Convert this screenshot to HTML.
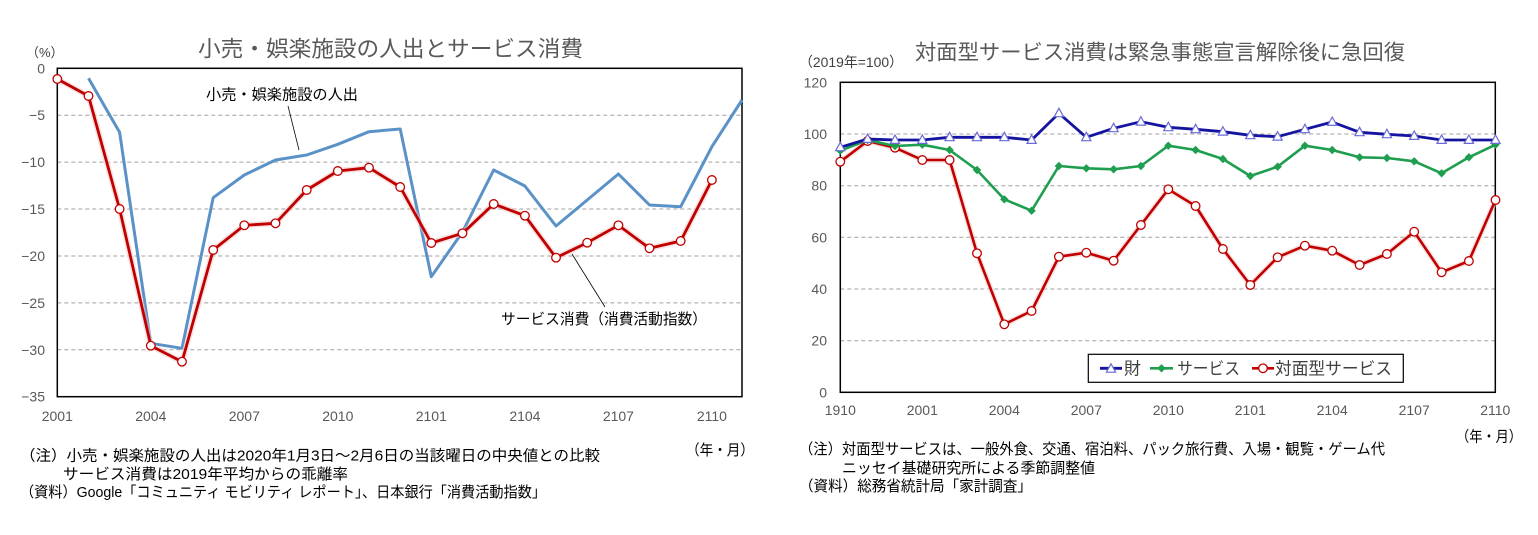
<!DOCTYPE html>
<html><head><meta charset="utf-8">
<style>
html,body{margin:0;padding:0;background:#fff;}
svg{display:block;}
text{font-family:"Liberation Sans","Noto Sans CJK JP",sans-serif;}
</style></head>
<body>
<svg width="1538" height="535" viewBox="0 0 1538 535" xmlns="http://www.w3.org/2000/svg">
<defs>
<g id="cir"><circle cx="0" cy="0" r="4.3" fill="#fff" stroke="#c00000" stroke-width="1.3"/></g>
<g id="tri"><polygon points="0,-5 -4.6,3.4 4.6,3.4" fill="#fff" stroke="#6a6ad6" stroke-width="1.2"/></g>
<g id="dia"><polygon points="0,-4.2 4.2,0 0,4.2 -4.2,0" fill="#1e9e4e"/></g>
</defs>
<rect width="1538" height="535" fill="#fff"/>

<!-- ===== LEFT CHART ===== -->
<text x="198" y="56.5" font-size="22" fill="#595959" textLength="385" lengthAdjust="spacingAndGlyphs">小売・娯楽施設の人出とサービス消費</text>
<text x="26" y="57" font-size="13" fill="#404040">（%）</text>

<g stroke="#a0a0a0" stroke-width="1" stroke-dasharray="4,3">
<line x1="57.3" y1="115.2" x2="742" y2="115.2"/>
<line x1="57.3" y1="162.1" x2="742" y2="162.1"/>
<line x1="57.3" y1="209" x2="742" y2="209"/>
<line x1="57.3" y1="256" x2="742" y2="256"/>
<line x1="57.3" y1="302.9" x2="742" y2="302.9"/>
<line x1="57.3" y1="349.8" x2="742" y2="349.8"/>
</g>
<rect x="57.3" y="68.3" width="684.7" height="328.4" fill="none" stroke="#000" stroke-width="1.5"/>

<g font-size="14" fill="#595959" text-anchor="end">
<text x="45" y="73.3">0</text>
<text x="45" y="120.2">−5</text>
<text x="45" y="167.1">−10</text>
<text x="45" y="214">−15</text>
<text x="45" y="261">−20</text>
<text x="45" y="307.9">−25</text>
<text x="45" y="354.8">−30</text>
<text x="45" y="401.7">−35</text>
</g>
<g font-size="14" fill="#595959" text-anchor="middle">
<text x="57.3" y="421">2001</text>
<text x="150.8" y="421">2004</text>
<text x="244.3" y="421">2007</text>
<text x="337.8" y="421">2010</text>
<text x="431.3" y="421">2101</text>
<text x="524.9" y="421">2104</text>
<text x="618.4" y="421">2107</text>
<text x="711.9" y="421">2110</text>
</g>

<polyline fill="none" stroke="#5a92c8" stroke-width="3" stroke-linejoin="round" points="88.5,78.3 119.6,132.3 150.8,343.3 182,348.3 213.2,197.7 244.3,175 275.5,160 306.7,155 337.8,144.3 369,131.7 400.2,129 431.3,276.7 462.5,232 493.7,170 524.9,186 556,226 587.2,200 618.4,174 649.5,205 680.7,206.7 711.9,146.7 742,100"/>
<polyline fill="none" stroke="#f3c4c4" stroke-width="6" stroke-linejoin="round" opacity="0.5" points="57.3,79 88.5,96 119.6,209 150.8,345.7 182,361.7 213.2,250 244.3,225.3 275.5,223.3 306.7,190 337.8,171 369,167.7 400.2,187 431.3,243 462.5,233.3 493.7,204 524.9,215.7 556,257.7 587.2,242.7 618.4,225.3 649.5,248.3 680.7,241 711.9,180"/>
<polyline fill="none" stroke="#c00000" stroke-width="2.8" stroke-linejoin="round" points="57.3,79 88.5,96 119.6,209 150.8,345.7 182,361.7 213.2,250 244.3,225.3 275.5,223.3 306.7,190 337.8,171 369,167.7 400.2,187 431.3,243 462.5,233.3 493.7,204 524.9,215.7 556,257.7 587.2,242.7 618.4,225.3 649.5,248.3 680.7,241 711.9,180"/>
<g>
<use href="#cir" x="57.3" y="79"/><use href="#cir" x="88.5" y="96"/><use href="#cir" x="119.6" y="209"/><use href="#cir" x="150.8" y="345.7"/><use href="#cir" x="182" y="361.7"/><use href="#cir" x="213.2" y="250"/><use href="#cir" x="244.3" y="225.3"/><use href="#cir" x="275.5" y="223.3"/><use href="#cir" x="306.7" y="190"/><use href="#cir" x="337.8" y="171"/><use href="#cir" x="369" y="167.7"/><use href="#cir" x="400.2" y="187"/><use href="#cir" x="431.3" y="243"/><use href="#cir" x="462.5" y="233.3"/><use href="#cir" x="493.7" y="204"/><use href="#cir" x="524.9" y="215.7"/><use href="#cir" x="556" y="257.7"/><use href="#cir" x="587.2" y="242.7"/><use href="#cir" x="618.4" y="225.3"/><use href="#cir" x="649.5" y="248.3"/><use href="#cir" x="680.7" y="241"/><use href="#cir" x="711.9" y="180"/>
</g>

<text x="206" y="99.5" font-size="15" fill="#000" textLength="152" lengthAdjust="spacingAndGlyphs">小売・娯楽施設の人出</text>
<line x1="288" y1="106" x2="299" y2="150" stroke="#000" stroke-width="0.8"/>
<text x="501" y="324" font-size="15" fill="#000" textLength="206" lengthAdjust="spacingAndGlyphs">サービス消費（消費活動指数）</text>
<line x1="572" y1="254" x2="605" y2="307" stroke="#000" stroke-width="0.8"/>

<text x="686" y="455" font-size="15" fill="#000" textLength="68" lengthAdjust="spacingAndGlyphs">（年・月）</text>
<g font-size="15" fill="#000">
<text x="20" y="460.5" textLength="580" lengthAdjust="spacingAndGlyphs">（注）小売・娯楽施設の人出は2020年1月3日～2月6日の当該曜日の中央値との比較</text>
<text x="63" y="478.8" textLength="285" lengthAdjust="spacingAndGlyphs">サービス消費は2019年平均からの乖離率</text>
<text x="20" y="497.2" textLength="526" lengthAdjust="spacingAndGlyphs">（資料）Google「コミュニティ モビリティ レポート」、日本銀行「消費活動指数」</text>
</g>

<!-- ===== RIGHT CHART ===== -->
<text x="915" y="59.5" font-size="21" fill="#595959" textLength="490" lengthAdjust="spacingAndGlyphs">対面型サービス消費は緊急事態宣言解除後に急回復</text>
<text x="799" y="67" font-size="14" fill="#404040" textLength="104" lengthAdjust="spacingAndGlyphs">（2019年=100）</text>

<g stroke="#a0a0a0" stroke-width="1" stroke-dasharray="4,3">
<line x1="840.3" y1="134" x2="1495.3" y2="134"/>
<line x1="840.3" y1="185.7" x2="1495.3" y2="185.7"/>
<line x1="840.3" y1="237.3" x2="1495.3" y2="237.3"/>
<line x1="840.3" y1="289" x2="1495.3" y2="289"/>
<line x1="840.3" y1="340.7" x2="1495.3" y2="340.7"/>
</g>
<rect x="840.3" y="82.3" width="655" height="310" fill="none" stroke="#000" stroke-width="1.5"/>

<g font-size="14" fill="#595959" text-anchor="end">
<text x="827" y="87.3">120</text>
<text x="827" y="139">100</text>
<text x="827" y="190.7">80</text>
<text x="827" y="242.3">60</text>
<text x="827" y="294">40</text>
<text x="827" y="345.7">20</text>
<text x="827" y="397.3">0</text>
</g>
<g font-size="14" fill="#595959" text-anchor="middle">
<text x="840.3" y="415">1910</text>
<text x="922.3" y="415">2001</text>
<text x="1004.3" y="415">2004</text>
<text x="1086.3" y="415">2007</text>
<text x="1168.3" y="415">2010</text>
<text x="1250.3" y="415">2101</text>
<text x="1332.2" y="415">2104</text>
<text x="1414.2" y="415">2107</text>
<text x="1495.3" y="415">2110</text>
</g>

<!-- red -->
<polyline fill="none" stroke="#f3c4c4" stroke-width="5.5" stroke-linejoin="round" opacity="0.5" points="840.3,161.7 867.6,141 895,147.7 922.3,160 949.6,160 977,253.3 1004.3,324.3 1031.6,311 1058.9,256.7 1086.3,252.7 1113.6,260.7 1140.9,225 1168.3,189.3 1195.6,206 1222.9,249 1250.3,285 1277.6,257.3 1304.9,245.7 1332.2,250.7 1359.6,265 1386.9,254 1414.2,231.7 1441.6,272.3 1468.9,261 1495.5,200"/>
<polyline fill="none" stroke="#c00000" stroke-width="2.6" stroke-linejoin="round" points="840.3,161.7 867.6,141 895,147.7 922.3,160 949.6,160 977,253.3 1004.3,324.3 1031.6,311 1058.9,256.7 1086.3,252.7 1113.6,260.7 1140.9,225 1168.3,189.3 1195.6,206 1222.9,249 1250.3,285 1277.6,257.3 1304.9,245.7 1332.2,250.7 1359.6,265 1386.9,254 1414.2,231.7 1441.6,272.3 1468.9,261 1495.5,200"/>
<g>
<use href="#cir" x="840.3" y="161.7"/><use href="#cir" x="867.6" y="141"/><use href="#cir" x="895" y="147.7"/><use href="#cir" x="922.3" y="160"/><use href="#cir" x="949.6" y="160"/><use href="#cir" x="977" y="253.3"/><use href="#cir" x="1004.3" y="324.3"/><use href="#cir" x="1031.6" y="311"/><use href="#cir" x="1058.9" y="256.7"/><use href="#cir" x="1086.3" y="252.7"/><use href="#cir" x="1113.6" y="260.7"/><use href="#cir" x="1140.9" y="225"/><use href="#cir" x="1168.3" y="189.3"/><use href="#cir" x="1195.6" y="206"/><use href="#cir" x="1222.9" y="249"/><use href="#cir" x="1250.3" y="285"/><use href="#cir" x="1277.6" y="257.3"/><use href="#cir" x="1304.9" y="245.7"/><use href="#cir" x="1332.2" y="250.7"/><use href="#cir" x="1359.6" y="265"/><use href="#cir" x="1386.9" y="254"/><use href="#cir" x="1414.2" y="231.7"/><use href="#cir" x="1441.6" y="272.3"/><use href="#cir" x="1468.9" y="261"/><use href="#cir" x="1495.5" y="200"/>
</g>

<!-- green -->
<polyline fill="none" stroke="#1e9e4e" stroke-width="2.6" stroke-linejoin="round" points="840.3,150.7 867.6,140 895,146 922.3,144.7 949.6,150 977,170 1004.3,199.3 1031.6,210.7 1058.9,166 1086.3,168.3 1113.6,169.3 1140.9,166 1168.3,145.7 1195.6,150 1222.9,159 1250.3,176 1277.6,166.7 1304.9,145.7 1332.2,150 1359.6,157.3 1386.9,158 1414.2,161.3 1441.6,173.3 1468.9,157.3 1495.5,144.7"/>
<g>
<use href="#dia" x="840.3" y="150.7"/><use href="#dia" x="867.6" y="140"/><use href="#dia" x="895" y="146"/><use href="#dia" x="922.3" y="144.7"/><use href="#dia" x="949.6" y="150"/><use href="#dia" x="977" y="170"/><use href="#dia" x="1004.3" y="199.3"/><use href="#dia" x="1031.6" y="210.7"/><use href="#dia" x="1058.9" y="166"/><use href="#dia" x="1086.3" y="168.3"/><use href="#dia" x="1113.6" y="169.3"/><use href="#dia" x="1140.9" y="166"/><use href="#dia" x="1168.3" y="145.7"/><use href="#dia" x="1195.6" y="150"/><use href="#dia" x="1222.9" y="159"/><use href="#dia" x="1250.3" y="176"/><use href="#dia" x="1277.6" y="166.7"/><use href="#dia" x="1304.9" y="145.7"/><use href="#dia" x="1332.2" y="150"/><use href="#dia" x="1359.6" y="157.3"/><use href="#dia" x="1386.9" y="158"/><use href="#dia" x="1414.2" y="161.3"/><use href="#dia" x="1441.6" y="173.3"/><use href="#dia" x="1468.9" y="157.3"/><use href="#dia" x="1495.5" y="144.7"/>
</g>

<!-- blue -->
<polyline fill="none" stroke="#1414a0" stroke-width="2.8" stroke-linejoin="round" points="840.3,147.3 867.6,139 895,140 922.3,140 949.6,137.3 977,137.3 1004.3,137.3 1031.6,140 1058.9,113.3 1086.3,137.3 1113.6,128.3 1140.9,121.7 1168.3,127.3 1195.6,129.3 1222.9,131.7 1250.3,135.3 1277.6,136.7 1304.9,129.3 1332.2,122 1359.6,132.3 1386.9,134.3 1414.2,136 1441.6,140 1468.9,140 1495.5,140"/>
<g>
<use href="#tri" x="840.3" y="147.3"/><use href="#tri" x="867.6" y="139"/><use href="#tri" x="895" y="140"/><use href="#tri" x="922.3" y="140"/><use href="#tri" x="949.6" y="137.3"/><use href="#tri" x="977" y="137.3"/><use href="#tri" x="1004.3" y="137.3"/><use href="#tri" x="1031.6" y="140"/><use href="#tri" x="1058.9" y="113.3"/><use href="#tri" x="1086.3" y="137.3"/><use href="#tri" x="1113.6" y="128.3"/><use href="#tri" x="1140.9" y="121.7"/><use href="#tri" x="1168.3" y="127.3"/><use href="#tri" x="1195.6" y="129.3"/><use href="#tri" x="1222.9" y="131.7"/><use href="#tri" x="1250.3" y="135.3"/><use href="#tri" x="1277.6" y="136.7"/><use href="#tri" x="1304.9" y="129.3"/><use href="#tri" x="1332.2" y="122"/><use href="#tri" x="1359.6" y="132.3"/><use href="#tri" x="1386.9" y="134.3"/><use href="#tri" x="1414.2" y="136"/><use href="#tri" x="1441.6" y="140"/><use href="#tri" x="1468.9" y="140"/><use href="#tri" x="1495.5" y="140"/>
</g>

<!-- legend -->
<rect x="1088.3" y="354.3" width="315" height="28" fill="#fff" stroke="#000" stroke-width="1.2"/>
<line x1="1100" y1="368.3" x2="1122" y2="368.3" stroke="#1414a0" stroke-width="2.8"/>
<use href="#tri" x="1111" y="368.8"/>
<text x="1124" y="374.5" font-size="17" fill="#404040">財</text>
<line x1="1150" y1="368.3" x2="1173" y2="368.3" stroke="#1e9e4e" stroke-width="2.6"/>
<use href="#dia" x="1161.5" y="368.3"/>
<text x="1177" y="374.5" font-size="17" fill="#404040" textLength="63" lengthAdjust="spacingAndGlyphs">サービス</text>
<line x1="1252" y1="368.3" x2="1274" y2="368.3" stroke="#c00000" stroke-width="2.6"/>
<use href="#cir" x="1263" y="368.3"/>
<text x="1275" y="374.5" font-size="17" fill="#404040" textLength="117" lengthAdjust="spacingAndGlyphs">対面型サービス</text>

<text x="1456" y="441.5" font-size="15" fill="#000" textLength="66" lengthAdjust="spacingAndGlyphs">（年・月）</text>
<g font-size="15" fill="#000">
<text x="799" y="453.8" textLength="586" lengthAdjust="spacingAndGlyphs">（注）対面型サービスは、一般外食、交通、宿泊料、パック旅行費、入場・観覧・ゲーム代</text>
<text x="842" y="473" textLength="253" lengthAdjust="spacingAndGlyphs">ニッセイ基礎研究所による季節調整値</text>
<text x="799" y="491" textLength="233" lengthAdjust="spacingAndGlyphs">（資料）総務省統計局「家計調査」</text>
</g>
</svg>
</body></html>
